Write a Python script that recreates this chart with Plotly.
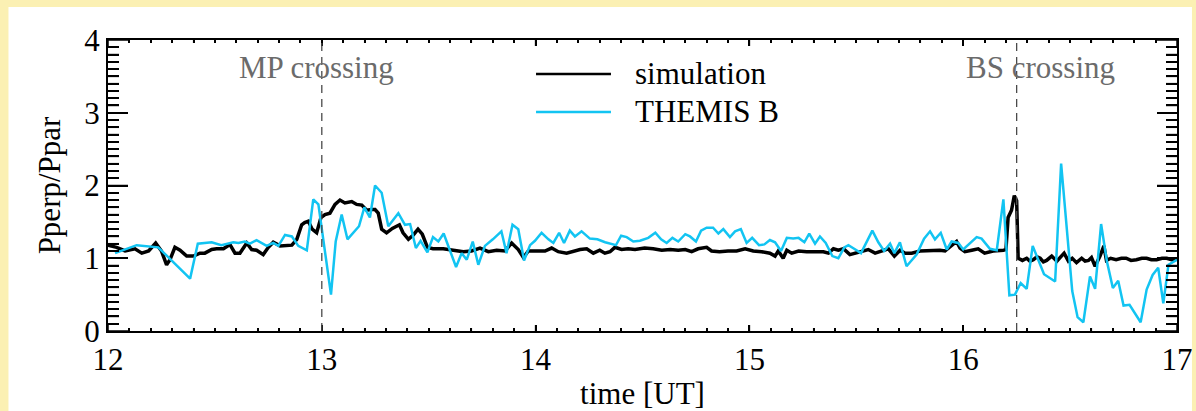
import plotly.graph_objects as go

# ---------------- data ----------------
sim_t = [12.0, 12.04, 12.08, 12.126, 12.158, 12.19, 12.223, 12.25, 12.274, 12.29,
         12.313, 12.337, 12.368, 12.40, 12.43, 12.453, 12.485, 12.508, 12.54, 12.57,
         12.594, 12.617, 12.649, 12.672, 12.695, 12.726, 12.75, 12.773, 12.805, 12.836,
         12.86, 12.883, 12.906, 12.92, 12.937, 12.955, 12.976, 12.996, 13.015, 13.038,
         13.062, 13.085, 13.108, 13.14, 13.163, 13.187, 13.21, 13.233, 13.249, 13.264,
         13.28, 13.303, 13.33, 13.363, 13.38, 13.405, 13.428, 13.45, 13.47, 13.494,
         13.52, 13.568, 13.615, 13.662, 13.70, 13.74, 13.779, 13.818, 13.857, 13.888,
         13.919, 13.943, 13.966, 14.005, 14.044, 14.075, 14.106, 14.145, 14.176, 14.208,
         14.239, 14.27, 14.30, 14.324, 14.348, 14.371, 14.402, 14.433, 14.465, 14.51,
         14.55, 14.59, 14.63, 14.667, 14.70, 14.73, 14.76, 14.80, 14.823, 14.86,
         14.90, 14.94, 14.98, 15.018, 15.057, 15.096, 15.12, 15.135, 15.158, 15.175,
         15.198, 15.23, 15.268, 15.307, 15.346, 15.37, 15.393, 15.416, 15.44, 15.47,
         15.494, 15.525, 15.556, 15.588, 15.62, 15.65, 15.678, 15.705, 15.728, 15.759,
         15.798, 15.845, 15.891, 15.915, 15.946, 15.969, 15.985, 16.008, 16.04, 16.07,
         16.10, 16.14, 16.188, 16.20, 16.21, 16.226, 16.239, 16.25, 16.257, 16.277,
         16.297, 16.312, 16.328, 16.345, 16.36, 16.375, 16.39, 16.414, 16.438, 16.455,
         16.472, 16.492, 16.51, 16.53, 16.554, 16.57, 16.586, 16.60, 16.617, 16.64,
         16.658, 16.67, 16.69, 16.715, 16.74, 16.762, 16.785, 16.81, 16.835, 16.858,
         16.88, 16.905, 16.93, 16.952, 16.975, 17.0]
sim_v = [1.18, 1.15, 1.10, 1.13, 1.07, 1.10, 1.21, 1.10, 0.91, 0.98,
         1.15, 1.11, 1.03, 1.03, 1.07, 1.07, 1.12, 1.13, 1.13, 1.19,
         1.07, 1.07, 1.21, 1.12, 1.11, 1.05, 1.15, 1.22, 1.17, 1.17,
         1.18, 1.26, 1.46, 1.49, 1.51, 1.40, 1.35, 1.56, 1.60, 1.62,
         1.74, 1.80, 1.76, 1.78, 1.74, 1.73, 1.66, 1.67, 1.67, 1.62,
         1.40, 1.35, 1.41, 1.46, 1.35, 1.26, 1.32, 1.40, 1.33, 1.15,
         1.13, 1.13, 1.11, 1.09, 1.10, 1.14, 1.09, 1.11, 1.10, 1.21,
         1.12, 1.01, 1.10, 1.10, 1.10, 1.14, 1.09, 1.07, 1.10, 1.12,
         1.13, 1.07, 1.11, 1.07, 1.09, 1.15, 1.12, 1.13, 1.12, 1.14,
         1.13, 1.11, 1.12, 1.11, 1.12, 1.09, 1.13, 1.15, 1.10, 1.09,
         1.10, 1.10, 1.13, 1.10, 1.09, 1.07, 1.03, 1.10, 1.00, 1.11,
         1.07, 1.10, 1.09, 1.09, 1.09, 1.07, 1.13, 1.11, 1.13, 1.05,
         1.07, 1.10, 1.12, 1.07, 1.10, 1.13, 1.03, 1.11, 1.07, 1.07,
         1.10, 1.11, 1.11, 1.10, 1.17, 1.23, 1.14, 1.09, 1.11, 1.13,
         1.07, 1.10, 1.11, 1.12, 1.56, 1.66, 1.86, 1.79, 1.00, 0.97,
         1.00, 0.96, 0.98, 1.02, 1.00, 0.95, 0.97, 1.03, 0.96, 1.01,
         1.07, 0.96, 1.00, 0.94, 1.00, 0.96, 0.97, 1.01, 0.89, 1.03,
         1.17, 0.97, 1.00, 0.98, 1.00, 1.00, 0.97, 0.98, 1.00, 1.00,
         0.98, 0.98, 1.00, 1.00, 0.98, 0.99]

themis_t = [12.033, 12.134, 12.235, 12.384, 12.42, 12.485, 12.53, 12.586, 12.61, 12.64,
            12.664, 12.695, 12.742, 12.773, 12.797, 12.828, 12.86, 12.89, 12.93, 12.96,
            12.984, 13.043, 13.065, 13.093, 13.12, 13.174, 13.199, 13.225, 13.249, 13.28,
            13.311, 13.358, 13.389, 13.413, 13.44, 13.462, 13.494, 13.52, 13.545, 13.57,
            13.628, 13.654, 13.678, 13.706, 13.732, 13.763, 13.80, 13.84, 13.864, 13.892,
            13.919, 13.946, 13.974, 13.997, 14.028, 14.06, 14.083, 14.11, 14.133, 14.16,
            14.184, 14.215, 14.254, 14.289, 14.325, 14.376, 14.40, 14.426, 14.457, 14.488,
            14.527, 14.56, 14.587, 14.613, 14.64, 14.667, 14.70, 14.722, 14.75, 14.774,
            14.80, 14.83, 14.855, 14.878, 14.909, 14.933, 14.96, 14.987, 15.013, 15.045,
            15.07, 15.096, 15.12, 15.148, 15.175, 15.205, 15.23, 15.257, 15.28, 15.307,
            15.33, 15.357, 15.388, 15.416, 15.444, 15.463, 15.49, 15.522, 15.575, 15.603,
            15.63, 15.658, 15.678, 15.704, 15.735, 15.782, 15.817, 15.845, 15.868, 15.895,
            15.923, 15.946, 15.977, 16.0, 16.063, 16.086, 16.125, 16.157, 16.188, 16.216,
            16.242, 16.269, 16.297, 16.325, 16.378, 16.43, 16.458, 16.51, 16.535, 16.562,
            16.593, 16.617, 16.645, 16.672, 16.70, 16.725, 16.75, 16.778, 16.83, 16.858,
            16.886, 16.912, 16.936, 16.96, 17.0]
themis_v = [1.07, 1.18, 1.15, 0.72, 1.20, 1.22, 1.18, 1.22, 1.21, 1.23,
            1.20, 1.25, 1.17, 1.21, 1.17, 1.32, 1.30, 1.17, 1.11, 1.81,
            1.74, 0.50, 1.23, 1.60, 1.26, 1.44, 1.70, 1.56, 2.00, 1.90,
            1.44, 1.62, 1.46, 1.47, 1.14, 1.24, 1.08, 1.29, 1.23, 1.34,
            0.88, 1.07, 0.98, 1.23, 0.91, 1.17, 1.26, 1.37, 1.07, 1.46,
            1.40, 0.97, 1.18, 1.24, 1.35, 1.26, 1.21, 1.35, 1.21, 1.38,
            1.30, 1.37, 1.27, 1.26, 1.22, 1.18, 1.31, 1.29, 1.23, 1.24,
            1.28, 1.35, 1.26, 1.21, 1.28, 1.23, 1.33, 1.30, 1.23, 1.38,
            1.42, 1.42, 1.34, 1.40, 1.29, 1.37, 1.40, 1.21, 1.28, 1.18,
            1.19, 1.25, 1.22, 1.10, 1.28, 1.27, 1.28, 1.22, 1.34, 1.20,
            1.30, 1.21, 1.03, 1.00, 1.15, 1.18, 1.13, 1.07, 1.38, 1.22,
            1.10, 1.20, 1.07, 1.22, 0.89, 1.05, 1.27, 1.37, 1.26, 1.35,
            1.12, 1.23, 1.21, 1.12, 1.29, 1.27, 1.13, 1.11, 1.81, 0.49,
            0.50, 0.66, 0.58, 1.17, 0.78, 0.68, 2.30, 0.55, 0.19, 0.12,
            0.75, 0.58, 1.47, 0.96, 0.59, 0.69, 0.35, 0.36, 0.12, 0.57,
            0.77, 0.87, 0.38, 0.91, 0.98]

crossing_t = [13.0, 16.25]
crossing_labels = ["MP crossing", "BS crossing"]
crossing_label_t = [12.975, 16.36]
series_names = ["simulation", "THEMIS B"]
series_colors = ["#000000", "#12C4F2"]

x_range = [12, 17]
y_range = [0, 4]

FONT = "Liberation Serif, Times New Roman, serif"
YELLOW = "#FBF0B3"

fig = go.Figure()
fig.add_trace(go.Scatter(x=sim_t, y=sim_v, mode="lines", name=series_names[0],
                         line=dict(color=series_colors[0], width=3.5), showlegend=False))
fig.add_trace(go.Scatter(x=themis_t, y=themis_v, mode="lines", name=series_names[1],
                         line=dict(color=series_colors[1], width=2.5), showlegend=False))

shapes = []
# yellow page border (left, top, right strips, outside the plot area)
for bx0, bx1, by0, by1 in [(-0.2, -0.0931, -0.4, 1.3), (-0.2, 1.2, 1.1134, 1.3),
                           (1.0140, 1.2, -0.4, 1.3)]:
    shapes.append(dict(type="rect", xref="paper", yref="paper", x0=bx0, x1=bx1,
                       y0=by0, y1=by1, fillcolor=YELLOW, line=dict(width=0)))

# axis tick marks on all four sides (positions derived from the axis ranges)
n_x = int(round((x_range[1] - x_range[0]) / 0.1))
for i in range(n_x + 1):
    t = x_range[0] + i * 0.1
    major = (i % 10 == 0)
    h = 0.0206 if major else 0.0103
    w = 1.5 if major else 1.2
    for y0, y1 in [(0, h), (1 - h, 1)]:
        shapes.append(dict(type="line", xref="x", yref="paper", x0=t, x1=t, y0=y0, y1=y1,
                           line=dict(color="black", width=w)))
n_y = int(round((y_range[1] - y_range[0]) / 0.1))
for i in range(n_y + 1):
    v = y_range[0] + i * 0.1
    major = (i % 10 == 0)
    L = 0.0187 if major else 0.0103
    for x0, x1 in [(0, L), (1 - L, 1)]:
        shapes.append(dict(type="line", xref="paper", yref="y", x0=x0, x1=x1, y0=v, y1=v,
                           line=dict(color="black", width=1.5)))

for t in crossing_t:
    shapes.append(dict(type="line", xref="x", yref="paper", x0=t, x1=t, y0=0, y1=1,
                       line=dict(color="#4a4a4a", width=1.3, dash="8px,6px")))
# manual legend lines
leg_y = [0.8832, 0.7526]
for yy, col in zip(leg_y, series_colors):
    shapes.append(dict(type="line", xref="paper", yref="paper", x0=0.4004, x1=0.4705,
                       y0=yy, y1=yy, line=dict(color=col, width=2.5)))

annotations = []
for lbl, t in zip(crossing_labels, crossing_label_t):
    annotations.append(dict(x=t, y=3.62, xref="x", yref="y", text=lbl, showarrow=False,
                            font=dict(family=FONT, size=31, color="#6b6b6b"),
                            xanchor="center", yanchor="middle"))
for yy, name in zip(leg_y, series_names):
    annotations.append(dict(x=0.4911, y=yy, xref="paper", yref="paper", text=name,
                            showarrow=False, font=dict(family=FONT, size=31, color="black"),
                            xanchor="left", yanchor="middle"))

fig.update_layout(
    width=1196, height=411,
    margin=dict(l=108, r=19, t=40, b=80, autoexpand=False),
    paper_bgcolor="white",
    plot_bgcolor="white",
    font=dict(family=FONT, size=31, color="black"),
    shapes=shapes,
    annotations=annotations,
    showlegend=False,
)
fig.update_xaxes(
    range=x_range, dtick=1,
    ticks="inside", ticklen=6, tickwidth=1.5, tickcolor="black",
    minor=dict(ticks="inside", ticklen=3, dtick=0.1, tickcolor="black"),
    showline=True, linewidth=2, linecolor="black", mirror="ticks",
    showgrid=False, automargin=False,
    tickfont=dict(family=FONT, size=31),
    title=dict(text="time [UT]", font=dict(family=FONT, size=31), standoff=6),
)
fig.update_yaxes(
    range=y_range, dtick=1,
    ticks="inside", ticklen=20, tickwidth=1.5, tickcolor="black",
    minor=dict(ticks="inside", ticklen=11, dtick=0.1, tickcolor="black"),
    showline=True, linewidth=2, linecolor="black", mirror="ticks",
    showgrid=False, automargin=False,
    tickfont=dict(family=FONT, size=31),
    title=dict(text="Pperp/Ppar", font=dict(family=FONT, size=31), standoff=14),
)

fig.write_html("out.html")
